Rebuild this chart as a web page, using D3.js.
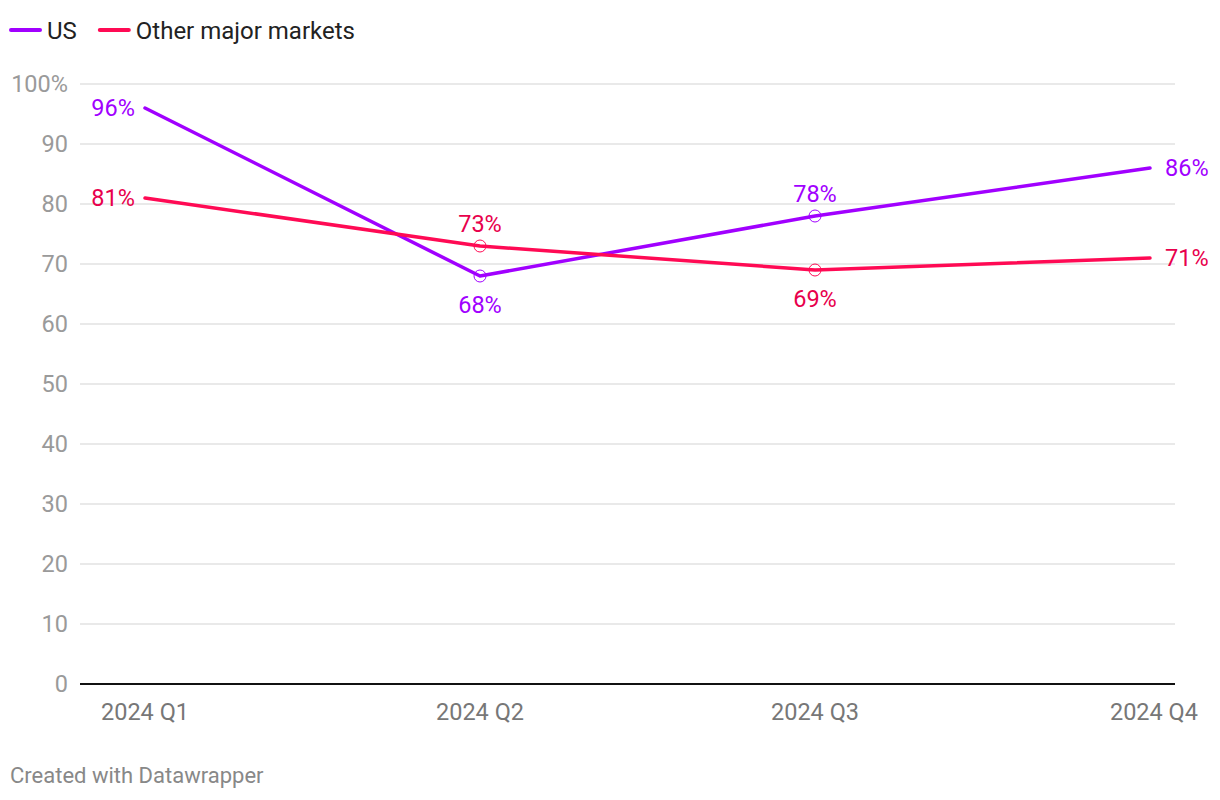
<!DOCTYPE html>
<html>
<head>
<meta charset="utf-8">
<script src="https://cdn.jsdelivr.net/npm/d3@7"></script>
<style>
  body { margin: 0; background: #fff; font-family: Roboto, "Noto Sans", sans-serif; }
</style>
</head>
<body>
<div id="chart"></div>
<script>
var quarters = ['2024 Q1', '2024 Q2', '2024 Q3', '2024 Q4'];
var usValues = [96, 68, 78, 86];
var otherValues = [81, 73, 69, 71];
var yTicks = [0, 10, 20, 30, 40, 50, 60, 70, 80, 90, 100];

var series = [
    { name: 'US', values: usValues, color: '#a100ff', text: '#a100ff', pos: ['left', 'below', 'above', 'right'] },
    { name: 'Other major markets', values: otherValues, color: '#ff0a54', text: '#e8004c', pos: ['left', 'above', 'below', 'right'] }
];

var width = 1220, height = 800;
var svg = d3.select('#chart').append('svg')
    .attr('width', width)
    .attr('height', height);

var x = d3.scalePoint().domain(quarters).range([145, 1150]);
var y = d3.scaleLinear().domain([0, 100]).range([684, 84]);

// legend
var legend = svg.append('g').attr('transform', 'translate(10, 30)');
var lx = 0;
series.forEach(s => {
    legend.append('line')
        .attr('x1', lx + 1).attr('x2', lx + 30)
        .attr('y1', 0).attr('y2', 0)
        .attr('stroke', s.color)
        .attr('stroke-width', 4)
        .attr('stroke-linecap', 'round');
    var t = legend.append('text')
        .attr('x', lx + 37).attr('y', 8.5)
        .attr('font-size', 24)
        .attr('fill', '#222')
        .text(s.name);
    lx += 37 + t.node().getComputedTextLength() + 22;
});

// grid
svg.append('g').selectAll('line')
    .data(yTicks.filter(d => d > 0))
    .join('line')
    .attr('x1', 80).attr('x2', 1175)
    .attr('y1', d => y(d)).attr('y2', d => y(d))
    .attr('stroke', '#e2e2e2')
    .attr('stroke-width', 1.5);

svg.append('g').selectAll('text')
    .data(yTicks)
    .join('text')
    .attr('x', 68)
    .attr('y', d => y(d) + 8)
    .attr('text-anchor', 'end')
    .attr('font-size', 23.5)
    .attr('fill', '#9a9a9a')
    .text(d => d === 100 ? '100%' : d);

svg.append('line')
    .attr('x1', 80).attr('x2', 1175)
    .attr('y1', y(0)).attr('y2', y(0))
    .attr('stroke', '#111')
    .attr('stroke-width', 2);

// x labels
svg.append('g').selectAll('text')
    .data(quarters)
    .join('text')
    .attr('x', (d, i) => i === quarters.length - 1 ? 1198 : x(d))
    .attr('y', 720)
    .attr('text-anchor', (d, i) => i === quarters.length - 1 ? 'end' : 'middle')
    .attr('font-size', 23.5)
    .attr('fill', '#777')
    .text(d => d);

var line = d3.line()
    .x((d, i) => x(quarters[i]))
    .y(d => y(d));

series.forEach(s => {
    var g = svg.append('g');
    g.append('path')
        .datum(s.values)
        .attr('d', line)
        .attr('fill', 'none')
        .attr('stroke', s.color)
        .attr('stroke-width', 3.5)
        .attr('stroke-linecap', 'round')
        .attr('stroke-linejoin', 'round');

    g.selectAll('circle')
        .data(s.values.slice(1, -1))
        .join('circle')
        .attr('cx', (d, i) => x(quarters[i + 1]))
        .attr('cy', d => y(d))
        .attr('r', 6)
        .attr('fill', 'none')
        .attr('stroke', s.color)
        .attr('stroke-width', 1);

    g.selectAll('text')
        .data(s.values)
        .join('text')
        .attr('x', (d, i) => {
            var p = s.pos[i];
            if (p === 'left') return x(quarters[i]) - 10;
            if (p === 'right') return x(quarters[i]) + 15;
            return x(quarters[i]);
        })
        .attr('y', (d, i) => {
            var p = s.pos[i];
            if (p === 'above') return y(d) - 14.5;
            if (p === 'below') return y(d) + 36.5;
            return y(d) + 8;
        })
        .attr('text-anchor', (d, i) => s.pos[i] === 'left' ? 'end' : s.pos[i] === 'right' ? 'start' : 'middle')
        .attr('font-size', 23.5)
        .attr('fill', s.text)
        .text(d => d + '%');
});

svg.append('text')
    .attr('x', 10).attr('y', 783)
    .attr('font-size', 22)
    .attr('fill', '#888')
    .text('Created with Datawrapper');
</script>
</body>
</html>
